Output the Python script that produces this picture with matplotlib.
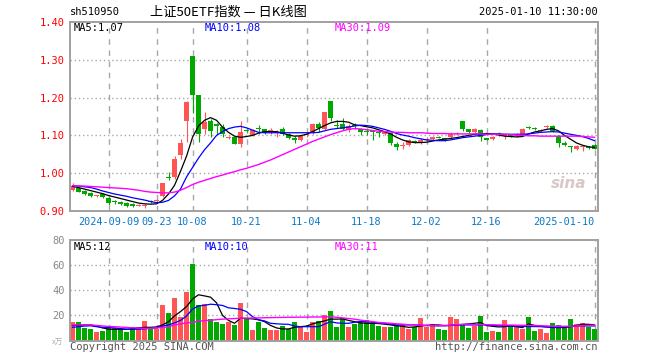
import matplotlib
matplotlib.use('Agg')
import matplotlib.pyplot as plt
import numpy as np
import pandas as pd

# 交易日（去掉节假日）
holidays = ['2024-09-16', '2024-09-17', '2024-10-01', '2024-10-02', '2024-10-03',
            '2024-10-04', '2024-10-07', '2025-01-01']
days = pd.bdate_range('2024-08-30', '2025-01-10')
days = days[~days.isin(pd.to_datetime(holidays))]

tick_dates = ['2024-09-09', '2024-09-23', '2024-10-08', '2024-10-21', '2024-11-04',
              '2024-11-18', '2024-12-02', '2024-12-16', '2025-01-10']
tick_labels = ['2024-09-09', '09-23', '10-08', '10-21', '11-04',
               '11-18', '12-02', '12-16', '2025-01-10']

opens = [0.956, 0.962, 0.952, 0.947, 0.940, 0.945, 0.934, 0.925, 0.925, 0.921,
         0.918, 0.914, 0.915, 0.926, 0.928, 0.939, 0.990, 0.989, 1.048, 1.139,
         1.309, 1.206, 1.118, 1.138, 1.128, 1.121, 1.094, 1.095, 1.078, 1.113,
         1.101, 1.118, 1.116, 1.113, 1.106, 1.116, 1.105, 1.091, 1.088, 1.102,
         1.108, 1.130, 1.118, 1.190, 1.126, 1.130, 1.114, 1.126, 1.118, 1.110,
         1.111, 1.108, 1.105, 1.107, 1.077, 1.073, 1.075, 1.084, 1.079, 1.089,
         1.091, 1.096, 1.092, 1.095, 1.104, 1.138, 1.116, 1.108, 1.114, 1.091,
         1.090, 1.105, 1.098, 1.099, 1.098, 1.105, 1.121, 1.119, 1.113, 1.124,
         1.125, 1.098, 1.081, 1.071, 1.063, 1.069, 1.069, 1.074]
closes = [0.967, 0.951, 0.946, 0.939, 0.941, 0.937, 0.921, 0.924, 0.919, 0.912,
          0.912, 0.917, 0.916, 0.925, 0.929, 0.974, 0.989, 1.037, 1.081, 1.188,
          1.206, 1.104, 1.136, 1.112, 1.127, 1.104, 1.095, 1.078, 1.109, 1.112,
          1.114, 1.117, 1.107, 1.114, 1.107, 1.105, 1.092, 1.090, 1.098, 1.103,
          1.130, 1.119, 1.161, 1.147, 1.125, 1.118, 1.126, 1.125, 1.110, 1.109,
          1.110, 1.107, 1.110, 1.079, 1.070, 1.074, 1.088, 1.083, 1.088, 1.090,
          1.096, 1.095, 1.091, 1.105, 1.105, 1.116, 1.108, 1.118, 1.095, 1.090,
          1.096, 1.104, 1.103, 1.098, 1.105, 1.117, 1.120, 1.118, 1.114, 1.125,
          1.112, 1.081, 1.075, 1.070, 1.072, 1.070, 1.068, 1.065]
highs = [0.974, 0.964, 0.955, 0.949, 0.943, 0.947, 0.937, 0.928, 0.927, 0.924,
         0.920, 0.919, 0.919, 0.928, 0.933, 0.975, 1.002, 1.046, 1.090, 1.191,
         1.309, 1.206, 1.162, 1.143, 1.133, 1.130, 1.098, 1.097, 1.138, 1.118,
         1.118, 1.127, 1.118, 1.120, 1.114, 1.122, 1.107, 1.098, 1.100, 1.109,
         1.132, 1.135, 1.163, 1.190, 1.141, 1.147, 1.131, 1.132, 1.120, 1.118,
         1.112, 1.110, 1.112, 1.109, 1.082, 1.083, 1.090, 1.088, 1.092, 1.097,
         1.098, 1.098, 1.094, 1.108, 1.110, 1.138, 1.118, 1.120, 1.116, 1.093,
         1.098, 1.108, 1.105, 1.104, 1.107, 1.120, 1.124, 1.121, 1.117, 1.128,
         1.127, 1.100, 1.084, 1.073, 1.074, 1.072, 1.071, 1.076]
lows = [0.952, 0.949, 0.943, 0.936, 0.938, 0.935, 0.917, 0.918, 0.917, 0.910,
        0.910, 0.912, 0.908, 0.920, 0.924, 0.937, 0.983, 0.985, 1.037, 1.083,
        1.160, 1.083, 1.104, 1.095, 1.104, 1.097, 1.090, 1.076, 1.070, 1.108,
        1.099, 1.105, 1.105, 1.105, 1.096, 1.100, 1.090, 1.081, 1.085, 1.096,
        1.105, 1.110, 1.115, 1.138, 1.119, 1.114, 1.110, 1.118, 1.101, 1.101,
        1.088, 1.097, 1.102, 1.074, 1.062, 1.063, 1.072, 1.080, 1.077, 1.086,
        1.088, 1.092, 1.085, 1.093, 1.100, 1.111, 1.106, 1.106, 1.086, 1.088,
        1.088, 1.098, 1.090, 1.095, 1.096, 1.103, 1.117, 1.115, 1.110, 1.120,
        1.110, 1.070, 1.072, 1.056, 1.061, 1.060, 1.064, 1.063]

ma5 = [0.965, 0.962, 0.958, 0.954, 0.950, 0.946, 0.941, 0.937, 0.933, 0.929,
       0.925, 0.921, 0.919, 0.918, 0.919, 0.928, 0.945, 0.968, 1.005, 1.045,
       1.095, 1.125, 1.140, 1.147, 1.140, 1.122, 1.108, 1.098, 1.095, 1.097,
       1.100, 1.106, 1.110, 1.110, 1.110, 1.106, 1.101, 1.098, 1.099, 1.103,
       1.110, 1.118, 1.126, 1.133, 1.137, 1.137, 1.135, 1.128, 1.126, 1.123,
       1.120, 1.115, 1.110, 1.104, 1.095, 1.088, 1.083, 1.081, 1.081, 1.082,
       1.085, 1.088, 1.090, 1.092, 1.094, 1.097, 1.100, 1.103, 1.104, 1.105,
       1.104, 1.101, 1.098, 1.097, 1.096, 1.097, 1.104, 1.109, 1.112, 1.116,
       1.118, 1.112, 1.100, 1.090, 1.080, 1.074, 1.070, 1.068]
ma10 = [0.967, 0.966, 0.964, 0.962, 0.958, 0.953, 0.949, 0.945, 0.942, 0.939,
        0.935, 0.932, 0.929, 0.925, 0.922, 0.923, 0.928, 0.940, 0.958, 0.990,
        1.015, 1.040, 1.062, 1.080, 1.100, 1.110, 1.118, 1.122, 1.124, 1.120,
        1.114, 1.108, 1.107, 1.107, 1.107, 1.107, 1.107, 1.107, 1.107, 1.107,
        1.107, 1.108, 1.112, 1.116, 1.118, 1.120, 1.122, 1.125, 1.127, 1.126,
        1.124, 1.120, 1.116, 1.111, 1.105, 1.101, 1.098, 1.094, 1.091, 1.088,
        1.087, 1.086, 1.086, 1.088, 1.091, 1.094, 1.096, 1.098, 1.100, 1.102,
        1.104, 1.104, 1.103, 1.103, 1.103, 1.103, 1.104, 1.106, 1.108, 1.109,
        1.110, 1.109, 1.106, 1.103, 1.100, 1.097, 1.092, 1.086]
ma30 = [0.967, 0.966, 0.966, 0.965, 0.964, 0.963, 0.962, 0.961, 0.960, 0.959,
        0.957, 0.955, 0.952, 0.950, 0.949, 0.948, 0.948, 0.950, 0.955, 0.962,
        0.970, 0.976, 0.981, 0.986, 0.991, 0.995, 1.000, 1.004, 1.009, 1.013,
        1.018, 1.023, 1.029, 1.035, 1.042, 1.049, 1.056, 1.063, 1.070, 1.077,
        1.084, 1.090, 1.096, 1.102, 1.107, 1.112, 1.116, 1.118, 1.117, 1.115,
        1.113, 1.111, 1.110, 1.109, 1.108, 1.108, 1.107, 1.107, 1.107, 1.106,
        1.105, 1.105, 1.105, 1.104, 1.104, 1.104, 1.104, 1.104, 1.104, 1.103,
        1.103, 1.103, 1.103, 1.102, 1.101, 1.100, 1.099, 1.099, 1.098, 1.098,
        1.098, 1.098, 1.098, 1.098, 1.098, 1.097, 1.096, 1.095]

# 成交量（万手）
volume = [15, 15, 10, 9, 6.5, 7.6, 10, 10, 9, 6.5,
          10.5, 10.5, 15.6, 10, 9.5, 28, 22, 34, 19, 39,
          61, 28.5, 29, 17, 14.8, 13, 14.8, 12.4, 30, 17,
          8.4, 14.8, 10, 8.4, 8.4, 11.6, 9.2, 14.8, 11.6, 6.8,
          14.8, 15.6, 20.4, 23.6, 11, 17.7, 11, 13.2, 15.6, 16.4,
          14, 11.6, 11, 11, 12.4, 12, 9.2, 10.8, 18, 11,
          13, 9.2, 8.4, 18.8, 17, 13, 10, 11.6, 19.6, 6.8,
          7.6, 6.8, 16.4, 11.6, 11.6, 9.2, 18.8, 7.6, 9.2, 6,
          14, 12.4, 10, 17, 13, 14, 10.8, 9.2]
vma5 = [12, 12.2, 12.4, 12.4, 11.5, 10, 9, 8.9, 8.9, 8.9,
        9.4, 10, 10.5, 10.5, 10.8, 12.4, 15, 19.6, 23, 27,
        33, 36.4, 35.5, 34.5, 30, 20, 16, 13.7, 17.7, 17.5,
        17.2, 16.5, 15, 12, 10, 9.2, 9.2, 10.5, 11, 11.5,
        13.2, 14.5, 15.6, 17, 17, 17.2, 16, 15, 14, 13.7,
        13.7, 13.5, 13, 12.4, 11.8, 11.3, 10.5, 10.8, 11.5, 12,
        12.4, 12.4, 11.8, 12, 12.4, 12.8, 13.2, 13.7, 14.3, 11.9,
        11.3, 10.8, 11, 11.6, 11, 10.3, 13.2, 12, 11.3, 10.8,
        10.3, 10.3, 10.3, 11, 12, 12.9, 12.9, 12.4]
vma10 = [10.5, 11, 11.5, 11.7, 11, 10.5, 10.3, 10, 9.5, 9,
         8.9, 9, 9.3, 9.7, 10, 11.5, 12.4, 14, 16, 19.5,
         25, 27.5, 28, 28.9, 28.5, 27.9, 26, 25.5, 24.8, 23,
         19, 16.5, 15.6, 13.7, 13.3, 13, 12.9, 11.5, 11, 11,
         11, 11, 13, 15, 14, 13.7, 13.7, 14.5, 15, 15,
         14.5, 14, 13.7, 13, 12.4, 12.4, 12.4, 12.4, 12.2, 12,
         11.8, 11.6, 11.8, 12, 12.4, 12.4, 12.4, 12.4, 12.4, 12.4,
         12, 11.8, 11.6, 11.6, 11.4, 11.3, 11.1, 11.1, 11, 10.8,
         10.6, 10.5, 10.8, 11.2, 11.6, 11.6, 11.6, 11.6]
vma30 = [12.4, 12.4, 12.4, 12.4, 12, 11.6, 11.2, 11, 10.7, 10.4,
         10.1, 9.9, 9.7, 9.7, 10, 10.4, 11, 12.4, 13.2, 14,
         14.5, 15.3, 15.8, 16.1, 16.6, 17, 17.2, 17.5, 17.7, 17.8,
         17.9, 18, 18.1, 18.2, 18.3, 18.4, 18.5, 18.5, 18.6, 18.6,
         18.7, 18.7, 18.8, 18.8, 18.5, 18, 17.5, 17, 16.2, 15.6,
         15, 14.4, 14, 13.7, 13.3, 13, 12.6, 12.4, 12.2, 12,
         11.9, 11.9, 12, 12.2, 12.6, 12.8, 12.9, 12.8, 12.7, 12.6,
         12.5, 12.4, 12.3, 12.3, 12.2, 12.1, 12, 11.9, 11.8, 11.6,
         11.4, 11.3, 11.3, 11.4, 11.6, 11.8, 12, 12.2]

RED = '#ff5555'
GREEN = '#00a800'
GRID = '#a8a8a8'
FRAME = '#a0a0a0'
MONO = 'DejaVu Sans Mono'
CJK = ['Noto Sans CJK SC', 'DejaVu Sans']

W, H = 660, 360
fig = plt.figure(figsize=(W / 100, H / 100), dpi=100)


def px_axes(x0, y0, x1, y1):
    return fig.add_axes([x0 / W, 1 - y1 / H, (x1 - x0) / W, (y1 - y0) / H])


def ftext(x, y, s, **kw):
    fig.text(x / W, 1 - y / H, s, **kw)


x = np.arange(len(days))
o, c = np.array(opens), np.array(closes)
hi, lo = np.array(highs), np.array(lows)
cols = np.where(c >= o, RED, GREEN)
tick_pos = [list(days.strftime('%Y-%m-%d')).index(d) for d in tick_dates]

# ---------- 价格 ----------
ax = px_axes(70, 22, 598, 211)
ax.vlines(x, lo, hi, colors=cols, lw=0.8)
body_h = np.maximum(np.abs(c - o), 0.0028)
body_b = np.where(np.abs(c - o) < 0.0028, (o + c) / 2 - 0.0014, np.minimum(o, c))
ax.bar(x, body_h, bottom=body_b, width=0.83, color=cols, linewidth=0)
ax.plot(x, ma5, color='black', lw=0.9)
ax.plot(x, ma10, color='#0000ff', lw=0.9)
ax.plot(x, ma30, color='#ff00ff', lw=1.0)
ax.set_xlim(-0.42, len(days) - 0.42)
ax.set_ylim(0.90, 1.40)
for lvl in [1.0, 1.1, 1.2, 1.3]:
    ax.axhline(lvl, color=GRID, lw=1, ls=(0, (1, 2)), zorder=0)
for p in tick_pos:
    ax.axvline(p, color=GRID, lw=1, ls=(0, (4, 4)), zorder=0)
ax.set_yticks([0.9, 1.0, 1.1, 1.2, 1.3, 1.4])
ax.set_yticklabels(['%.2f' % v for v in [0.9, 1.0, 1.1, 1.2, 1.3, 1.4]],
                   color='red', family=MONO, fontsize=7.5)
ax.set_xticks(tick_pos)
ax.set_xticklabels(tick_labels, color='#0a78c8', family=MONO, fontsize=7.3)
ax.get_xticklabels()[-1].set_ha('right')
ax.tick_params(length=0, pad=4)
for s in ax.spines.values():
    s.set_color(FRAME)
    s.set_linewidth(1.4)
ax.text(0.945, 0.12, 'sina', transform=ax.transAxes, color='#d8c8c8',
        fontsize=11, fontweight='bold', style='italic', ha='center')

# ---------- 成交量 ----------
vx = px_axes(70, 240, 598, 340.5)
vx.bar(x, volume, width=0.83, color=cols, linewidth=0)
vx.plot(x, vma5, color='black', lw=0.9)
vx.plot(x, vma10, color='#0000ff', lw=0.9)
vx.plot(x, vma30, color='#ff00ff', lw=1.0)
vx.set_xlim(-0.42, len(days) - 0.42)
vx.set_ylim(0, 80)
for lvl in [20, 40, 60]:
    vx.axhline(lvl, color=GRID, lw=1, ls=(0, (1, 2)), zorder=0)
for p in tick_pos:
    vx.axvline(p, color=GRID, lw=1, ls=(0, (4, 4)), zorder=0)
vx.set_yticks([20, 40, 60, 80])
vx.set_yticklabels(['20', '40', '60', '80'], color='#888888', family=MONO, fontsize=7.5)
vx.set_xticks([])
vx.tick_params(length=0, pad=4)
for s in vx.spines.values():
    s.set_color(FRAME)
    s.set_linewidth(1.4)
ftext(58, 343, 'x万', color='#aaaaaa', fontsize=5.5, family=CJK, ha='center', va='center')

# ---------- 文字 ----------
ftext(70, 12, 'sh510950', family=MONO, fontsize=7.5, va='center')
ftext(150, 12, '上证50ETF指数 — 日K线图', family=CJK, fontsize=9.5, va='center')
ftext(598, 12, '2025-01-10 11:30:00', family=MONO, fontsize=7.5, va='center', ha='right')

ftext(74, 28, 'MA5:1.07', family=MONO, fontsize=7.5, va='center')
ftext(205, 28, 'MA10:1.08', family=MONO, fontsize=7.5, va='center', color='#0000ff')
ftext(335, 28, 'MA30:1.09', family=MONO, fontsize=7.5, va='center', color='#ff00ff')
ftext(74, 247, 'MA5:12', family=MONO, fontsize=7.5, va='center')
ftext(205, 247, 'MA10:10', family=MONO, fontsize=7.5, va='center', color='#0000ff')
ftext(335, 247, 'MA30:11', family=MONO, fontsize=7.5, va='center', color='#ff00ff')

ftext(70, 347, 'Copyright 2025 SINA.COM', family=MONO, fontsize=7.5, va='center', color='#555555')
ftext(598, 347, 'http://finance.sina.com.cn', family=MONO, fontsize=7.5, va='center',
      ha='right', color='#555555')

fig.savefig('out.png', dpi=100)
